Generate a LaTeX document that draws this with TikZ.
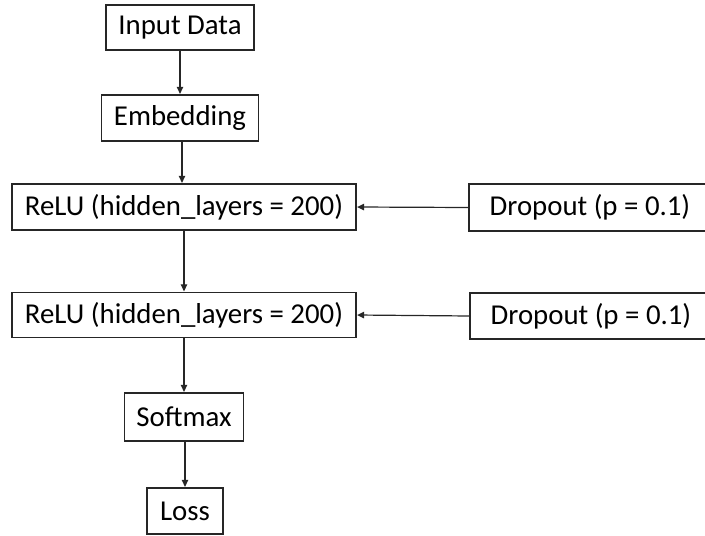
\documentclass[tikz,border=0pt]{standalone}
\usepackage{fontspec}
\setmainfont{Carlito}
\usetikzlibrary{arrows.meta}
\begin{document}
\begin{tikzpicture}[x=1pt,y=-1pt,
  layer/.style={draw=black!85, line width=1.3pt, inner sep=0pt, anchor=center,
    font=\fontsize{28.8}{32}\selectfont, text=black},
  flow/.style={draw=black!85, line width=1.2pt, -{Triangle[length=7pt,width=6.5pt]}, shorten >=0.5pt}]
  \useasboundingbox (0,0) rectangle (705,536);
  % main stack of layers
  \node[layer, minimum width=148pt, minimum height=45pt] (inp) at (180,27.5) {Input Data};
  \node[layer, minimum width=157pt, minimum height=46pt] (emb) at (180,118) {Embedding};
  \node[layer, minimum width=344pt, minimum height=46pt] (relu1) at (184,207) {ReLU (hidden\_layers = 200)};
  \node[layer, minimum width=344pt, minimum height=45pt] (relu2) at (184,315) {ReLU (hidden\_layers = 200)};
  \node[layer, minimum width=119pt, minimum height=48pt] (soft) at (184,417) {Softmax};
  \node[layer, minimum width=76pt, minimum height=46pt] (loss) at (185,511) {Loss};
  % dropout boxes feeding the hidden layers
  \node[layer, minimum width=242pt, minimum height=47pt] (drop1) at (590,207.5) {Dropout (p = 0.1)};
  \node[layer, minimum width=242pt, minimum height=46pt] (drop2) at (591,316) {Dropout (p = 0.1)};
  % connectors
  \draw[flow] (inp.south) -- (emb.north);
  \draw[flow] (emb.south -| 182,0) -- (relu1.north -| 182,0);
  \draw[flow] (relu1.south) -- (relu2.north);
  \draw[flow] (relu2.south) -- (soft.north);
  \draw[flow] (soft.south -| 185,0) -- (loss.north);
  \draw[flow] (drop1.west) -- (relu1.east);
  \draw[flow] (drop2.west) -- (relu2.east);
\end{tikzpicture}
\end{document}
